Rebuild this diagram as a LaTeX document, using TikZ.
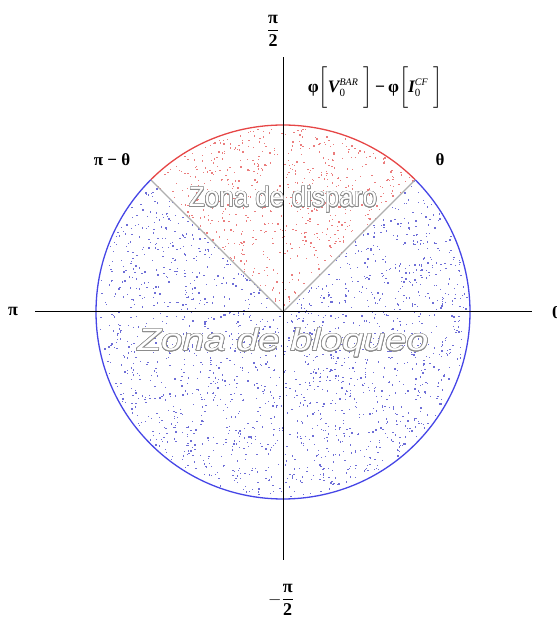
\documentclass[tikz,border=0pt]{standalone}
\usepackage{amsmath}
\usepackage{fontspec}
\setmainfont{Liberation Serif}
\newfontfamily\zonafont{Liberation Sans}
\usepackage{contour}
\contourlength{0.55pt}
\contournumber{24}
\usetikzlibrary{calc}
\definecolor{circblue}{RGB}{70,70,230}
\definecolor{circred}{RGB}{230,70,70}
\definecolor{dotblue}{RGB}{110,110,215}
\definecolor{dotred}{RGB}{235,125,125}
\definecolor{sepgray}{RGB}{175,175,175}
\definecolor{zonegray}{RGB}{140,140,140}
\tikzset{
  lbl/.style={inner sep=0pt,font=\fontsize{18}{21}\selectfont\bfseries},
  axis/.style={draw=black,line width=1pt},
  zone/.style={inner sep=0pt,text=white},
}
\begin{document}
\begin{tikzpicture}[x=1pt,y=1pt]
\useasboundingbox (0,0) rectangle (557,627);
\coordinate (c) at (283,315);
% dots
\pgfmathsetseed{12}
\foreach \i in {1,...,2400}{
  \pgfmathsetmacro\ang{360*rnd}
  \pgfmathsetmacro\rad{185*sqrt(rnd)}
  \pgfmathsetmacro\isred{and(\ang>45,\ang<135)}
  \ifdim\isred pt>0.5pt \def\dc{dotred}\else\def\dc{dotblue}\fi
  \fill[\dc,shift={(c)}] (\ang:\rad) ++(-0.65,-0.65) rectangle ++(1.3,1.3);
}
% sector separators
\coordinate (s1) at ($(c)+(45:187)$);
\coordinate (s2) at ($(c)+(135:187)$);
\draw[sepgray,line width=1.2pt] (c) -- (s1);
\draw[sepgray,line width=1.2pt] (c) -- (s2);
% circle
\draw[circred,line width=1.3pt] (s1) arc[start angle=45,end angle=135,radius=187];
\draw[circblue,line width=1.3pt] (s2) arc[start angle=135,end angle=405,radius=187];
% axes
\coordinate (xl) at (35,315);
\coordinate (xr) at (532,315);
\coordinate (yt) at (283,570);
\coordinate (yb) at (283,67);
\draw[axis] (xl) -- (xr);
\draw[axis] (yb) -- (yt);
% zone texts
\node[zone] (disp) at (283,427) {\scalebox{0.93}[1]{\fontsize{28}{30}\zonafont\contour{zonegray}{Zona de disparo}}};
\node[zone] (bloq) at (283,284) {\scalebox{1.25}[1]{\fontsize{31}{33}\zonafont\itshape\contour{zonegray}{Zona de bloqueo}}};
% labels
\node[lbl] (top) at (273,596) {$\dfrac{\mbox{π}}{\mbox{2}}$};
\node[lbl] (bot) at (281,27) {$-\dfrac{\mbox{π}}{\mbox{2}}$};
\node[lbl] (pil) at (13,316) {π};
\node[lbl,anchor=west] (zero) at (552,314) {0};
\node[lbl,font=\fontsize{17}{20}\selectfont\bfseries] (pmt) at (112,467) {π − θ};
\node[lbl,font=\fontsize{17}{20}\selectfont\bfseries] (th) at (440,467) {θ};
\node[lbl,font=\fontsize{17.5}{20}\selectfont\bfseries] (phi) at (375,539)
 {φ$\bigg[\mbox{\bfseries\itshape V}_{\mbox{\fontsize{11}{12}\selectfont\mdseries 0}}^{\mbox{\fontsize{10}{12}\selectfont\mdseries\itshape BAR}}\;\bigg]$\,−\,φ$\bigg[\mbox{\bfseries\itshape I}_{\mbox{\fontsize{11}{12}\selectfont\mdseries 0}}^{\mbox{\fontsize{10}{12}\selectfont\mdseries\itshape CF}}\;\bigg]$};
\end{tikzpicture}
\end{document}
